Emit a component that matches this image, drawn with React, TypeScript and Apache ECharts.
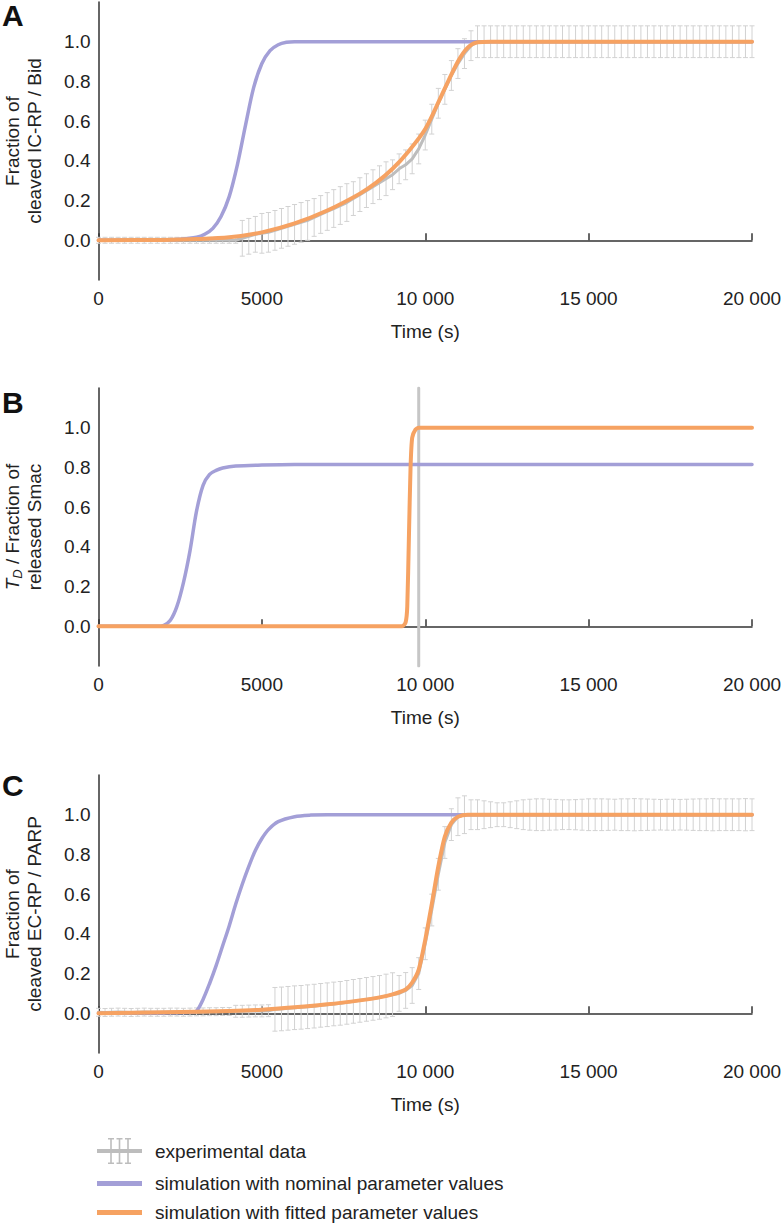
import React, { useEffect, useRef } from 'react';
import * as echarts from 'echarts';

// ---------- data ----------
const expTime = [
  0, 200, 400, 600, 800, 1000, 1200, 1400, 1600, 1800,
  2000, 2200, 2400, 2600, 2800, 3000, 3200, 3400, 3600, 3800,
  4000, 4200, 4400, 4600, 4800, 5000, 5200, 5400, 5600, 5800,
  6000, 6200, 6400, 6600, 6800, 7000, 7200, 7400, 7600, 7800,
  8000, 8200, 8400, 8600, 8800, 9000, 9200, 9400, 9600, 9800,
  10000, 10200, 10400, 10600, 10800, 11000, 11200, 11400, 11600, 11800,
  12000, 12200, 12400, 12600, 12800, 13000, 13200, 13400, 13600, 13800,
  14000, 14200, 14400, 14600, 14800, 15000, 15200, 15400, 15600, 15800,
  16000, 16200, 16400, 16600, 16800, 17000, 17200, 17400, 17600, 17800,
  18000, 18200, 18400, 18600, 18800, 19000, 19200, 19400, 19600, 19800,
  20000,
];

// Panel A: cleaved IC-RP / Bid
const aExpMean = [
  0, 0, 0, 0, 0, 0, 0, 0, 0, 0,
  0, 0, 0, 0, 0, 0, 0, 0, 0, 0,
  0, 0, 0.01, 0.02, 0.03, 0.035, 0.04, 0.05, 0.06, 0.07,
  0.08, 0.09, 0.1, 0.115, 0.13, 0.145, 0.16, 0.175, 0.19, 0.21,
  0.23, 0.25, 0.27, 0.29, 0.31, 0.33, 0.36, 0.38, 0.41, 0.46,
  0.53, 0.61, 0.69, 0.76, 0.83, 0.89, 0.94, 0.98, 1, 1,
  1, 1, 1, 1, 1, 1, 1, 1, 1, 1,
  1, 1, 1, 1, 1, 1, 1, 1, 1, 1,
  1, 1, 1, 1, 1, 1, 1, 1, 1, 1,
  1, 1, 1, 1, 1, 1, 1, 1, 1, 1,
  1,
];
const aExpSd = [
  0.015, 0.015, 0.015, 0.015, 0.015, 0.015, 0.015, 0.015, 0.015, 0.015,
  0.015, 0.015, 0.015, 0.015, 0.015, 0.015, 0.015, 0.015, 0.015, 0.015,
  0.015, 0.015, 0.09, 0.09, 0.09, 0.1, 0.1, 0.1, 0.1, 0.1,
  0.1, 0.1, 0.1, 0.095, 0.095, 0.095, 0.095, 0.095, 0.095, 0.085,
  0.085, 0.085, 0.085, 0.085, 0.085, 0.075, 0.075, 0.075, 0.075, 0.075,
  0.075, 0.075, 0.075, 0.075, 0.075, 0.075, 0.075, 0.075, 0.08, 0.08,
  0.08, 0.08, 0.08, 0.08, 0.08, 0.08, 0.08, 0.08, 0.08, 0.08,
  0.08, 0.08, 0.08, 0.08, 0.08, 0.08, 0.08, 0.08, 0.08, 0.08,
  0.08, 0.08, 0.08, 0.08, 0.08, 0.08, 0.08, 0.08, 0.08, 0.08,
  0.08, 0.08, 0.08, 0.08, 0.08, 0.08, 0.08, 0.08, 0.08, 0.08,
  0.08,
];
const aNomTime = [0, 1000, 2000, 2500, 3000, 3250, 3500, 3750, 4000, 4250, 4500, 4750, 5000, 5250, 5500, 5750, 6000, 20000];
const aNomValue = [0, 0, 0.002, 0.005, 0.015, 0.03, 0.06, 0.12, 0.22, 0.38, 0.58, 0.77, 0.89, 0.955, 0.985, 0.997, 1, 1];
const aFitTime = [0, 2000, 3000, 4000, 5000, 6000, 7000, 8000, 8500, 9000, 9500, 10000, 10500, 11000, 11300, 11600, 12000, 20000];
const aFitValue = [0, 0.002, 0.006, 0.015, 0.04, 0.085, 0.15, 0.235, 0.29, 0.36, 0.45, 0.56, 0.73, 0.9, 0.97, 0.997, 1, 1];

// Panel B: T_D / released Smac
const bDeathTime = [9800, 9800];
const bDeathValue = [-0.2, 1.2];
const bNomTime = [0, 1800, 2000, 2200, 2400, 2600, 2800, 3000, 3200, 3400, 3600, 3800, 4200, 5000, 6000, 20000];
const bNomValue = [0, 0, 0.005, 0.03, 0.1, 0.22, 0.38, 0.58, 0.71, 0.765, 0.785, 0.797, 0.807, 0.812, 0.815, 0.815];
const bFitTime = [0, 9300, 9400, 9450, 9500, 9550, 9600, 9700, 9800, 20000];
const bFitValue = [0, 0, 0.02, 0.1, 0.45, 0.8, 0.95, 0.99, 1, 1];

// Panel C: cleaved EC-RP / PARP
const cExpMean = [
  0.005, 0.004, 0.005, 0.006, 0.005, 0.004, 0.005, 0.006, 0.005, 0.005,
  0.005, 0.006, 0.006, 0.005, 0.006, 0.007, 0.007, 0.008, 0.008, 0.009,
  0.009, 0.01, 0.01, 0.011, 0.012, 0.012, 0.013, 0.02, 0.022, 0.025,
  0.028, 0.03, 0.033, 0.036, 0.04, 0.043, 0.047, 0.05, 0.055, 0.06,
  0.065, 0.07, 0.075, 0.08, 0.087, 0.094, 0.1, 0.115, 0.14, 0.2,
  0.35, 0.52, 0.7, 0.86, 0.95, 0.99, 1, 1, 1, 1,
  1, 1, 1, 1, 1, 1, 1, 1, 1, 1,
  1, 1, 1, 1, 1, 1, 1, 1, 1, 1,
  1, 1, 1, 1, 1, 1, 1, 1, 1, 1,
  1, 1, 1, 1, 1, 1, 1, 1, 1, 1,
  1,
];
const cExpSd = [
  0.02, 0.02, 0.02, 0.02, 0.02, 0.02, 0.02, 0.02, 0.02, 0.02,
  0.02, 0.02, 0.02, 0.02, 0.02, 0.02, 0.02, 0.02, 0.02, 0.02,
  0.02, 0.03, 0.03, 0.03, 0.03, 0.03, 0.03, 0.11, 0.11, 0.11,
  0.11, 0.11, 0.11, 0.11, 0.11, 0.11, 0.11, 0.11, 0.11, 0.11,
  0.11, 0.11, 0.11, 0.11, 0.11, 0.11, 0.09, 0.09, 0.09, 0.08,
  0.08, 0.08, 0.08, 0.08, 0.08, 0.095, 0.095, 0.075, 0.075, 0.07,
  0.065, 0.06, 0.06, 0.065, 0.07, 0.075, 0.078, 0.08, 0.08, 0.078,
  0.077, 0.075, 0.075, 0.076, 0.078, 0.08, 0.08, 0.08, 0.079, 0.078,
  0.08, 0.08, 0.081, 0.08, 0.079, 0.078, 0.077, 0.078, 0.078, 0.077,
  0.078, 0.079, 0.08, 0.08, 0.081, 0.08, 0.08, 0.08, 0.08, 0.081,
  0.08,
];
const cNomTime = [0, 2000, 2800, 3000, 3200, 3400, 3600, 3800, 4000, 4200, 4400, 4600, 4800, 5000, 5200, 5500, 6000, 6500, 7000, 20000];
const cNomValue = [0, 0.002, 0.005, 0.012, 0.07, 0.15, 0.24, 0.34, 0.44, 0.55, 0.65, 0.74, 0.82, 0.88, 0.925, 0.965, 0.99, 0.998, 1, 1];
const cFitTime = [0, 2000, 4000, 5000, 6000, 7000, 8000, 8600, 9000, 9400, 9600, 9800, 10000, 10200, 10400, 10600, 10800, 11000, 11300, 20000];
const cFitValue = [0, 0.005, 0.012, 0.018, 0.03, 0.045, 0.065, 0.08, 0.095, 0.12, 0.155, 0.22, 0.37, 0.55, 0.74, 0.89, 0.96, 0.99, 1, 1];

const xTickLabels = ['0', '5000', '10 000', '15 000', '20 000'];
const yTickValues = [0, 0.2, 0.4, 0.6, 0.8, 1.0];
const panelLetters = ['A', 'B', 'C'];
const yNames = [
  'Fraction of\ncleaved IC-RP / Bid',
  '{i|T}{s|D} / Fraction of\nreleased Smac',
  'Fraction of\ncleaved EC-RP / PARP',
];
const legendNames = [
  'experimental data',
  'simulation with nominal parameter values',
  'simulation with fitted parameter values',
];

// ---------- style ----------
const FONT = 'Liberation Sans, Arial, Helvetica, sans-serif';
const TEXT = '#222';
const AXIS = '#333';
const PURPLE = '#a39fd7';
const ORANGE = '#f6a262';
const GRAY = '#bdbdbd';
const BAR = '#d2d2d2';
const GRID_TOPS = [2, 388, 775];
const LETTER_TOPS = [0, 387, 770];
const GRID_H = 278;

const pairs = (t: number[], v: number[]) => t.map((x, i) => [x, v[i]]);

const errorBarItem = (params: any, api: any) => {
  const t = api.value(0);
  const lo = api.coord([t, api.value(1)]);
  const hi = api.coord([t, api.value(2)]);
  const half = 2.5;
  const style = { stroke: BAR, lineWidth: 1 };
  return {
    type: 'group',
    children: [
      { type: 'line', shape: { x1: lo[0], y1: lo[1], x2: hi[0], y2: hi[1] }, style },
      { type: 'line', shape: { x1: lo[0] - half, y1: lo[1], x2: lo[0] + half, y2: lo[1] }, style },
      { type: 'line', shape: { x1: hi[0] - half, y1: hi[1], x2: hi[0] + half, y2: hi[1] }, style },
    ],
  };
};

function errorSeries(i: number, mean: number[], sd: number[]) {
  return {
    type: 'custom',
    name: legendNames[0],
    xAxisIndex: i,
    yAxisIndex: i,
    z: 1,
    silent: true,
    renderItem: errorBarItem,
    encode: { x: 0, y: [1, 2] },
    data: expTime.map((t, k) => [t, mean[k] - sd[k], mean[k] + sd[k]]),
  };
}

function lineSeries(i: number, name: string, data: number[][], color: string, width: number, z: number, smooth: number | boolean) {
  return {
    type: 'line',
    name,
    xAxisIndex: i,
    yAxisIndex: i,
    z,
    data,
    symbol: 'none',
    showSymbol: false,
    smooth,
    silent: true,
    lineStyle: { color, width, cap: 'round', join: 'round' },
    itemStyle: { color },
  };
}

const EXP_ICON =
  'path://M0,11H45V15H0Z' +
  'M13.2,0H14.8V26H13.2Z M21.7,0H23.3V26H21.7Z M30.2,0H31.8V26H30.2Z' +
  'M11,0H17V1.5H11Z M19.5,0H25.5V1.5H19.5Z M28,0H34V1.5H28Z' +
  'M11,24.5H17V26H11Z M19.5,24.5H25.5V26H19.5Z M28,24.5H34V26H28Z';
const LINE_ICON = 'path://M0,0H45V5H0Z';

export default function App() {
  const ref = useRef<HTMLDivElement>(null);

  useEffect(() => {
    if (!ref.current) return;
    const chart = echarts.init(ref.current, undefined, { renderer: 'svg' });

    const grids = GRID_TOPS.map((top) => ({
      left: 98.5,
      top,
      width: 653.5,
      height: GRID_H,
      containLabel: false,
      outerBoundsMode: 'none',
    }));

    const xAxes = GRID_TOPS.map((_, i) => ({
      gridIndex: i,
      type: 'value',
      min: 0,
      max: 20000,
      interval: 5000,
      name: 'Time (s)',
      nameLocation: 'middle',
      nameGap: 42,
      nameTextStyle: { fontSize: 19, color: TEXT, fontFamily: FONT },
      axisLine: { lineStyle: { color: AXIS, width: 1.5 } },
      axisTick: { inside: true, length: 7, lineStyle: { color: AXIS, width: 1.5 } },
      axisLabel: {
        fontSize: 19,
        color: TEXT,
        fontFamily: FONT,
        margin: 9,
        showMaxLabel: true,
        formatter: (v: number) => xTickLabels[Math.round(v / 5000)] ?? String(v),
      },
      splitLine: { show: false },
    }));

    const yAxes = GRID_TOPS.map((_, i) => ({
      gridIndex: i,
      type: 'value',
      min: -0.2,
      max: 1.2,
      interval: 0.2,
      name: yNames[i],
      nameLocation: 'middle',
      nameGap: 53,
      nameTextStyle: {
        fontSize: 19,
        lineHeight: 22,
        color: TEXT,
        fontFamily: FONT,
        rich: {
          i: { fontSize: 19, fontStyle: 'italic', color: TEXT, fontFamily: FONT },
          s: { fontSize: 13, fontStyle: 'italic', color: TEXT, fontFamily: FONT, padding: [9, 0, 0, 0] },
        },
      },
      axisLine: { lineStyle: { color: AXIS, width: 1.5 } },
      axisTick: { inside: true, length: 6, customValues: [0], lineStyle: { color: AXIS, width: 1.5 } },
      axisLabel: {
        fontSize: 19,
        color: TEXT,
        fontFamily: FONT,
        margin: 8,
        customValues: yTickValues,
        formatter: (v: number) => v.toFixed(1),
      },
      splitLine: { show: false },
    }));

    const series: any[] = [
      // Panel A
      errorSeries(0, aExpMean, aExpSd),
      lineSeries(0, legendNames[0], pairs(expTime, aExpMean), GRAY, 3, 2, false),
      lineSeries(0, legendNames[1], pairs(aNomTime, aNomValue), PURPLE, 3.5, 3, 0.3),
      lineSeries(0, legendNames[2], pairs(aFitTime, aFitValue), ORANGE, 4, 4, 0.3),
      // Panel B
      lineSeries(1, legendNames[0], pairs(bDeathTime, bDeathValue), '#c6c6c6', 3, 2, false),
      lineSeries(1, legendNames[1], pairs(bNomTime, bNomValue), PURPLE, 3.5, 3, 0.3),
      lineSeries(1, legendNames[2], pairs(bFitTime, bFitValue), ORANGE, 4, 4, 0.2),
      // Panel C
      errorSeries(2, cExpMean, cExpSd),
      lineSeries(2, legendNames[0], pairs(expTime, cExpMean), GRAY, 3, 2, false),
      lineSeries(2, legendNames[1], pairs(cNomTime, cNomValue), PURPLE, 3.5, 3, 0.3),
      lineSeries(2, legendNames[2], pairs(cFitTime, cFitValue), ORANGE, 4, 4, 0.25),
    ];

    chart.setOption({
      animation: false,
      backgroundColor: '#fff',
      textStyle: { fontFamily: FONT },
      title: panelLetters.map((t, i) => ({
        text: t,
        left: 2,
        top: LETTER_TOPS[i],
        padding: 0,
        textStyle: { fontSize: 30, fontWeight: 'bold', color: '#111', fontFamily: FONT },
      })),
      grid: grids,
      xAxis: xAxes,
      yAxis: yAxes,
      legend: {
        orient: 'vertical',
        left: 97,
        top: 1138,
        padding: 0,
        itemWidth: 45,
        itemHeight: 26,
        itemGap: 10,
        selectedMode: false,
        symbolKeepAspect: true,
        textStyle: { fontSize: 19, color: TEXT, fontFamily: FONT, padding: [0, 0, 0, 8] },
        data: [
          { name: legendNames[0], icon: EXP_ICON, itemStyle: { color: GRAY } },
          { name: legendNames[1], icon: LINE_ICON, itemStyle: { color: PURPLE } },
          { name: legendNames[2], icon: LINE_ICON, itemStyle: { color: ORANGE } },
        ],
      },
      series,
    });

    return () => chart.dispose();
  }, []);

  return (
    <div
      ref={ref}
      style={{ position: 'absolute', left: 0, top: 0, width: 784, height: 1226 }}
    />
  );
}
